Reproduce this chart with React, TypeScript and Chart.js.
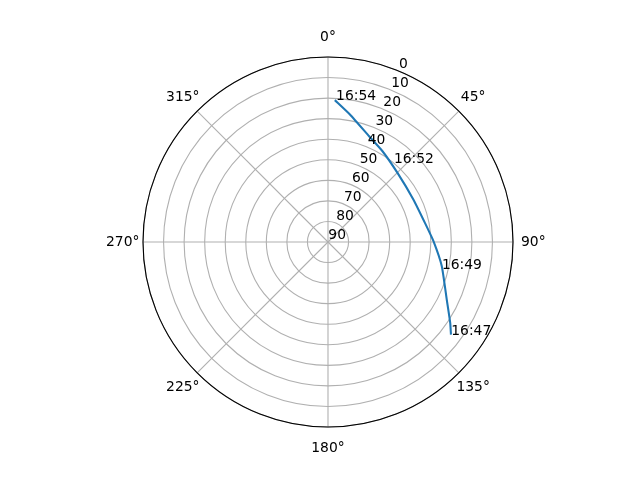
import React, { useEffect, useRef } from "react";
import { Chart, registerables } from "chart.js";

Chart.register(...registerables);

// Satellite pass track: azimuth (deg, clockwise from N) and elevation (deg)
const trackAzimuth = [127, 123.5, 116, 102, 89.5, 79, 63.5, 45, 31, 21.25, 9.75, 2.75];
const trackElevation = [15.1, 18.7, 25.7, 33.4, 38.7, 41.9, 43.6, 42.3, 38.5, 34.8, 27.05, 20.9];

// Time annotations (anchored at baseline-left)
const labelAzimuth = [127, 103.5, 40, 3.25];
const labelElevation = [14.9, 33.0, 40.1, 20.9];
const labelText = ["16:47", "16:49", "16:52", "16:54"];

const thetaTicks = [0, 45, 90, 135, 180, 225, 270, 315];
const radialStep = 10;
const radialLabelAngle = 22.5;

const STEPS_PER_DEG = 4; // angular resolution of the radial category axis
const N = 360 * STEPS_PER_DEG;

const FONT = '"DejaVu Sans", sans-serif';
const FONT_PX = 13.89;

function toSlots(az: number[], el: number[]) {
  const arr: (number | null)[] = new Array(N).fill(null);
  az.forEach((a, k) => {
    arr[Math.round(a * STEPS_PER_DEG) % N] = el[k];
  });
  return arr;
}

export default function App() {
  const ref = useRef<HTMLCanvasElement | null>(null);

  useEffect(() => {
    if (!ref.current) return;
    const labels = Array.from({ length: N }, (_, i) => String(i / STEPS_PER_DEG));
    const trackData = toSlots(trackAzimuth, trackElevation);
    const labelData = toSlots(labelAzimuth, labelElevation);
    const labelIndex = labelAzimuth.map((a) => Math.round(a * STEPS_PER_DEG) % N);

    const noLoop = {
      id: "noLoop",
      afterDatasetUpdate(chart: any, args: any) {
        const line = args.meta && args.meta.dataset;
        if (line) {
          line._loop = false;
          line._fullLoop = false;
          line._segments = undefined;
          line._path = undefined;
        }
      },
    };

    const textPlugin = {
      id: "polarText",
      afterDraw(chart: any) {
        const s = chart.scales.r;
        const ctx = chart.ctx as CanvasRenderingContext2D;
        ctx.save();
        // outer spine
        ctx.beginPath();
        ctx.arc(s.xCenter, s.yCenter, s.getDistanceFromCenterForValue(s.min), 0, Math.PI * 2);
        ctx.strokeStyle = "#000000";
        ctx.lineWidth = 1.1;
        ctx.stroke();

        ctx.fillStyle = "#000000";
        ctx.font = `${FONT_PX}px ${FONT}`;
        ctx.textBaseline = "alphabetic";

        // angular tick labels
        ctx.textAlign = "center";
        thetaTicks.forEach((a) => {
          const p = s.getPointPosition(a * STEPS_PER_DEG, s.drawingArea + 20.3);
          ctx.fillText(`${a}°`, p.x, p.y + 5.07 - 0.8);
        });

        // radial tick labels
        ctx.textAlign = "left";
        s.ticks.forEach((t: any) => {
          const p = s.getPointPosition(
            radialLabelAngle * STEPS_PER_DEG,
            s.getDistanceFromCenterForValue(t.value)
          );
          ctx.fillText(String(t.value), p.x + 0.3, p.y - 2.7);
        });

        // time annotations
        const meta = chart.getDatasetMeta(1);
        labelIndex.forEach((idx, k) => {
          const el = meta.data[idx];
          if (el) ctx.fillText(labelText[k], el.x, el.y);
        });
        ctx.restore();
      },
    };

    const chart = new Chart(ref.current, {
      type: "radar",
      data: {
        labels,
        datasets: [
          {
            data: trackData,
            borderColor: "#1f77b4",
            borderWidth: 2.08,
            fill: false,
            spanGaps: true,
            tension: 0.15,
            pointRadius: 0,
            pointHitRadius: 0,
            pointHoverRadius: 0,
          },
          {
            data: labelData,
            showLine: false,
            borderWidth: 0,
            fill: false,
            pointRadius: 0,
            pointHitRadius: 0,
            pointHoverRadius: 0,
          },
        ],
      },
      options: {
        responsive: false,
        animation: false,
        layout: { padding: { left: 143, right: 127, top: 57, bottom: 53 } },
        plugins: {
          legend: { display: false },
          tooltip: { enabled: false },
        },
        scales: {
          r: {
            min: 0,
            max: 90,
            reverse: true,
            startAngle: 0,
            ticks: { display: false, stepSize: radialStep },
            grid: { circular: true, color: "#b0b0b0", lineWidth: 1.1 },
            angleLines: {
              display: true,
              color: "#b0b0b0",
              lineWidth: (c: any) => (c.index % (45 * STEPS_PER_DEG) === 0 ? 1.1 : 0),
            },
            pointLabels: { display: false },
          },
        },
      } as any,
      plugins: [noLoop, textPlugin],
    });
    return () => chart.destroy();
  }, []);

  return (
    <div style={{ position: "absolute", left: 0, top: 0, width: 640, height: 480, background: "#ffffff" }}>
      <canvas ref={ref} width={640} height={480} />
    </div>
  );
}
